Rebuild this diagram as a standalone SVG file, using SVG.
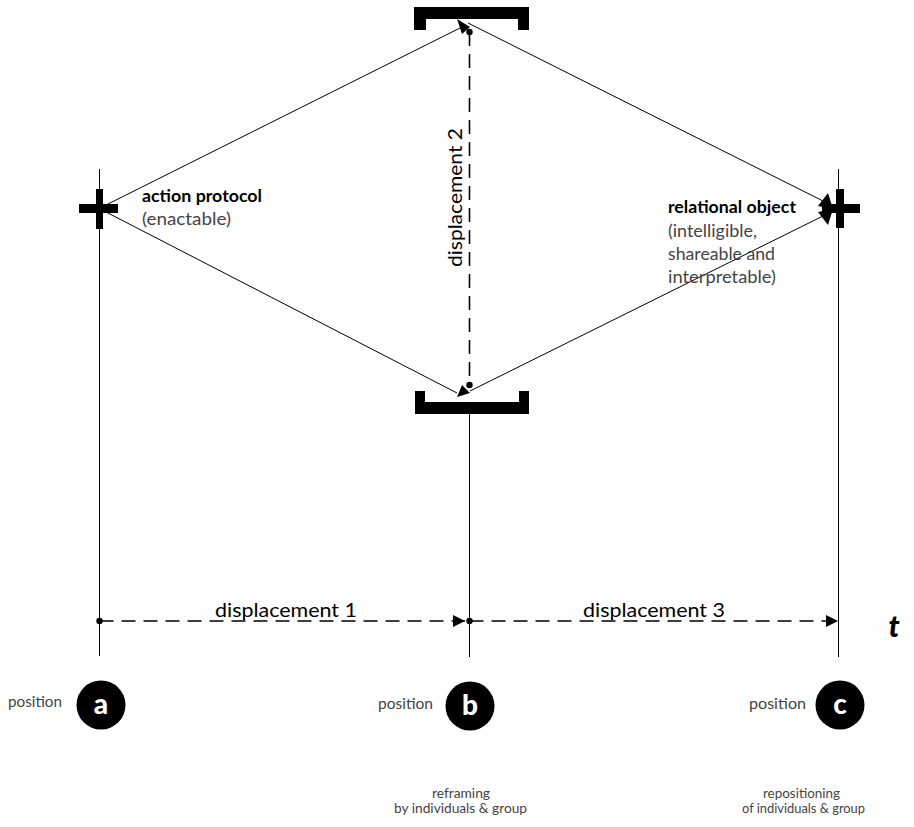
<svg xmlns="http://www.w3.org/2000/svg" width="914" height="827" viewBox="0 0 914 827">
<defs>
<style>
.thin{stroke:#000;stroke-width:1;fill:none}
.dash{stroke:#000;stroke-width:1.6;fill:none;stroke-dasharray:14 8}
.lbl{font-family:Lato,"Open Sans",sans-serif;fill:#000}
.grey{font-family:Lato,"Open Sans",sans-serif;fill:#444}
.blk{fill:#000}
.circtxt{font-family:Lato,"Open Sans",sans-serif;fill:#fff;font-weight:900;font-size:28px;text-anchor:middle}
</style>
<marker id="ah" viewBox="0 0 10 10" refX="10" refY="5" markerWidth="18" markerHeight="12" markerUnits="userSpaceOnUse" orient="auto"><path d="M0,0 L10,5 L0,10 z" fill="#000"/></marker>
</defs>
<rect width="914" height="827" fill="#fff"/>

<g id="connectors">
<line class="thin" x1="99.5" y1="169" x2="99.5" y2="656"/>
<line class="thin" x1="469.5" y1="414" x2="469.5" y2="657"/>
<line class="thin" x1="838.5" y1="169" x2="838.5" y2="657"/>
<line class="thin" x1="106" y1="205" x2="462" y2="27"/>
<line class="thin" x1="106" y1="212" x2="457" y2="393"/>
<line class="thin" x1="468" y1="23" x2="827" y2="203"/>
<line class="thin" x1="470" y1="391" x2="827" y2="214"/>
<polygon class="blk" points="457,19 470,27 462,34"/>
<polygon class="blk" points="457,397 462,385 470,393"/>
<polygon class="blk" points="828,193 833,209 818,206"/>
<polygon class="blk" points="828,225 818,212 833,209"/>
<line class="dash" x1="469.5" y1="32" x2="469.5" y2="385"/>
<circle class="blk" cx="469.5" cy="32" r="3.2"/>
<circle class="blk" cx="469.5" cy="385" r="3.2"/>
<line class="dash" x1="99.5" y1="621" x2="465" y2="621" marker-end="url(#ah)"/>
<circle class="blk" cx="99.5" cy="621" r="3.2"/>
<line class="dash" x1="469.5" y1="621" x2="838" y2="621" marker-end="url(#ah)"/>
<circle class="blk" cx="469.5" cy="621" r="3.2"/>
<text class="lbl" x="215" y="617" font-size="20" textLength="142" lengthAdjust="spacingAndGlyphs">displacement 1</text>
<text class="lbl" x="583" y="617" font-size="20" textLength="142" lengthAdjust="spacingAndGlyphs">displacement 3</text>
<text class="lbl" transform="translate(462,267) rotate(-90)" font-size="20" textLength="139" lengthAdjust="spacingAndGlyphs">displacement 2</text>
</g>

<g id="node-cross-a">
<rect class="blk" x="79" y="204" width="39" height="9"/>
<rect class="blk" x="96" y="189" width="7" height="40"/>
<text class="lbl" x="142" y="202" font-size="17" font-weight="bold" textLength="120" lengthAdjust="spacingAndGlyphs">action protocol</text>
<text class="grey" x="142" y="225" font-size="17" textLength="89" lengthAdjust="spacingAndGlyphs">(enactable)</text>
</g>

<g id="node-bracket-top">
<path class="blk" d="M414,7 H529 V30 H518 V19 H426 V30 H414 Z"/>
</g>

<g id="node-bracket-bottom">
<path class="blk" d="M415,391 H425 V402 H519 V391 H529 V414 H415 Z"/>
</g>

<g id="node-cross-c">
<rect class="blk" x="822" y="204" width="38" height="9"/>
<rect class="blk" x="836" y="189" width="8" height="39"/>
<text class="lbl" x="668" y="213" font-size="17" font-weight="bold" textLength="128" lengthAdjust="spacingAndGlyphs">relational object</text>
<text class="grey" x="668" y="237" font-size="17" textLength="89" lengthAdjust="spacingAndGlyphs">(intelligible,</text>
<text class="grey" x="668" y="260" font-size="17" textLength="107" lengthAdjust="spacingAndGlyphs">shareable and</text>
<text class="grey" x="668" y="283" font-size="17" textLength="108" lengthAdjust="spacingAndGlyphs">interpretable)</text>
</g>

<g id="node-t">
<text class="lbl" x="894" y="637" font-size="30" font-weight="900" font-style="italic" text-anchor="middle">t</text>
</g>

<g id="node-position-a">
<text class="grey" x="8" y="707" font-size="15" textLength="54" lengthAdjust="spacingAndGlyphs">position</text>
<circle class="blk" cx="101" cy="705" r="24.5"/>
<text class="circtxt" x="101" y="714">a</text>
</g>

<g id="node-position-b">
<text class="grey" x="378" y="709" font-size="15" textLength="55" lengthAdjust="spacingAndGlyphs">position</text>
<circle class="blk" cx="470" cy="706" r="24.5"/>
<text class="circtxt" x="470" y="715">b</text>
</g>

<g id="node-position-c">
<text class="grey" x="749" y="709" font-size="15" textLength="57" lengthAdjust="spacingAndGlyphs">position</text>
<circle class="blk" cx="840" cy="705" r="24.5"/>
<text class="circtxt" x="840" y="714">c</text>
<text class="grey" x="763" y="798" font-size="13.5" textLength="77" lengthAdjust="spacingAndGlyphs">repositioning</text>
<text class="grey" x="742" y="813" font-size="13.5" textLength="123" lengthAdjust="spacingAndGlyphs">of individuals &amp; group</text>
</g>

<g id="node-reframing">
<text class="grey" x="432" y="798" font-size="13.5" textLength="58" lengthAdjust="spacingAndGlyphs">reframing</text>
<text class="grey" x="394" y="813" font-size="13.5" textLength="133" lengthAdjust="spacingAndGlyphs">by individuals &amp; group</text>
</g>
</svg>
